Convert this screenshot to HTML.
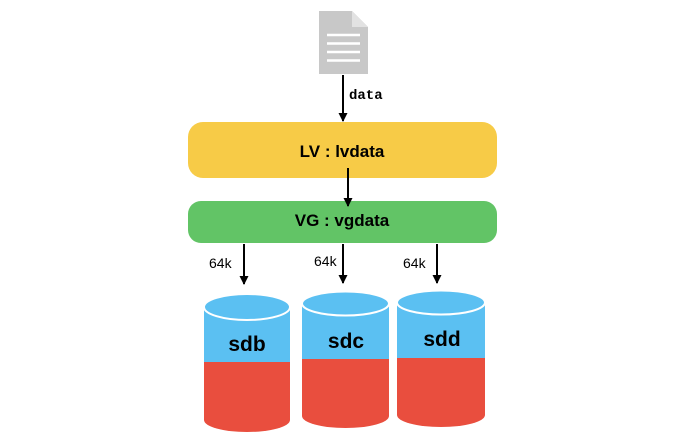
<!DOCTYPE html>
<html><head><meta charset="utf-8"><style>
html,body{margin:0;padding:0;background:#fff;}
svg{display:block;}
</style></head><body>
<svg width="700" height="439" viewBox="0 0 700 439" xmlns="http://www.w3.org/2000/svg">
<defs>
<marker id="ah" markerWidth="9" markerHeight="9" refX="8" refY="4.5" orient="auto" markerUnits="userSpaceOnUse">
<path d="M0,0 L9,4.5 L0,9 Z" fill="#000"/>
</marker>
</defs>
<!-- document icon -->
<path d="M319,11 L352,11 L368,27 L368,74 L319,74 Z" fill="#c8c8c8"/>
<path d="M352,11 L368,27 L352,27 Z" fill="#e2e2e2"/>
<g stroke="#fff" stroke-width="2.5">
<line x1="327" y1="35" x2="360" y2="35"/>
<line x1="327" y1="43.5" x2="360" y2="43.5"/>
<line x1="327" y1="52" x2="360" y2="52"/>
<line x1="327" y1="60.5" x2="360" y2="60.5"/>
</g>
<!-- arrow data -->
<line x1="343" y1="75" x2="343" y2="121" stroke="#000" stroke-width="2" marker-end="url(#ah)"/>
<text x="349" y="99" font-family="Liberation Mono, monospace" font-weight="bold" font-size="14" fill="#000">data</text>
<!-- LV box -->
<rect x="188" y="122" width="309" height="56" rx="15" fill="#f7cb47"/>
<text x="342" y="157" text-anchor="middle" font-family="Liberation Sans, sans-serif" font-weight="bold" font-size="17" fill="#000">LV : lvdata</text>
<!-- VG box -->
<rect x="188" y="201" width="309" height="42" rx="13" fill="#62c466"/>
<text x="342" y="226" text-anchor="middle" font-family="Liberation Sans, sans-serif" font-weight="bold" font-size="17" fill="#000">VG : vgdata</text>
<line x1="348" y1="168" x2="348" y2="206" stroke="#000" stroke-width="2" marker-end="url(#ah)"/>
<!-- 64k arrows -->
<g stroke="#000" stroke-width="2">
<line x1="244" y1="244" x2="244" y2="284" marker-end="url(#ah)"/>
<line x1="343" y1="244" x2="343" y2="283" marker-end="url(#ah)"/>
<line x1="437" y1="244" x2="437" y2="283" marker-end="url(#ah)"/>
</g>
<g font-family="Liberation Sans, sans-serif" font-size="14" fill="#000">
<text x="209" y="268">64k</text>
<text x="314" y="266">64k</text>
<text x="403" y="268">64k</text>
</g>
<!-- cylinders -->
<g>
<path d="M204,307 L204,362 L290,362 L290,307 Z" fill="#5bc0f2"/>
<path d="M204,362 L204,420 A43,12 0 0 0 290,420 L290,362 Z" fill="#e94e3e"/>
<ellipse cx="247" cy="307" rx="43" ry="13" fill="#5bc0f2" stroke="#fff" stroke-width="2"/>
<text x="247" y="351" text-anchor="middle" font-family="Liberation Sans, sans-serif" font-weight="bold" font-size="21" fill="#000">sdb</text>
</g>
<g>
<path d="M302,303 L302,359 L389,359 L389,303 Z" fill="#5bc0f2"/>
<path d="M302,359 L302,416 A43.5,12 0 0 0 389,416 L389,359 Z" fill="#e94e3e"/>
<ellipse cx="345.5" cy="303.5" rx="43.5" ry="12" fill="#5bc0f2" stroke="#fff" stroke-width="2"/>
<text x="346" y="348" text-anchor="middle" font-family="Liberation Sans, sans-serif" font-weight="bold" font-size="21" fill="#000">sdc</text>
</g>
<g>
<path d="M397,303 L397,358 L485,358 L485,303 Z" fill="#5bc0f2"/>
<path d="M397,358 L397,415 A44,12 0 0 0 485,415 L485,358 Z" fill="#e94e3e"/>
<ellipse cx="441" cy="302.5" rx="44" ry="12" fill="#5bc0f2" stroke="#fff" stroke-width="2"/>
<text x="442" y="346" text-anchor="middle" font-family="Liberation Sans, sans-serif" font-weight="bold" font-size="21" fill="#000">sdd</text>
</g>
</svg>
</body></html>
